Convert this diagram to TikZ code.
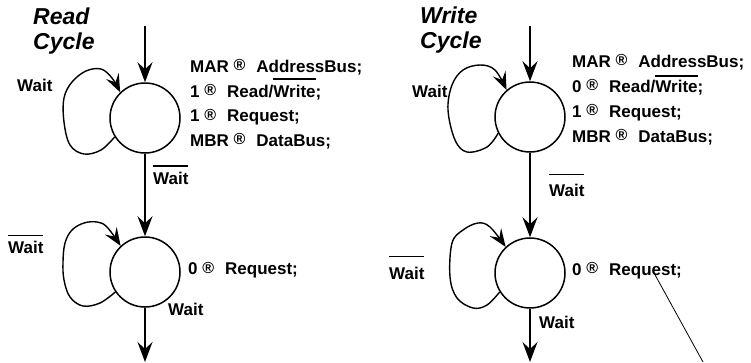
\documentclass[tikz,border=0pt]{standalone}
\usepackage{fontspec}
\setmainfont{Liberation Sans}
\usetikzlibrary{arrows.meta}
% bar over a signal name; optional gap between bar and letters
\newcommand\ovl[2][5pt]{\vbox{\hrule height 1.3pt\kern #1\hbox{#2}}}
% transfer mark between source and destination
\newcommand\toarrow{\ {\fontsize{16}{16}\selectfont\raisebox{1.2pt}{®}}\hspace{11pt}}
\begin{document}
\begin{tikzpicture}[x=1pt,y=-1pt,
  state/.style={circle,draw,line width=1.5pt,minimum size=70pt,inner sep=0pt},
  flow/.style={line width=1.6pt,-{Stealth[length=20pt,width=15pt,inset=7pt]}},
  selfloop/.style={line width=1.4pt,-{Stealth[length=18pt,width=14pt,inset=7pt]}},
  txt/.style={anchor=base west,inner sep=0pt,font=\bfseries\fontsize{17}{20}\selectfont},
  title/.style={anchor=base west,inner sep=0pt,font=\bfseries\itshape\fontsize{23}{28}\selectfont},
  pointer/.style={line width=0.8pt}]
\useasboundingbox (0,0) rectangle (751,362);

% ---------------- read cycle ----------------
\node[state] (L1) at (145,118) {};
\node[state] (L2) at (145,272) {};
\coordinate (Lin) at (145,26);
\coordinate (Lout) at (145,362);
\draw[flow] (Lin) -- (L1.north);
\draw[flow] (L1.south) -- (L2.north);
\draw[flow] (L2.south) -- (Lout);
\draw[selfloop] plot[smooth,tension=0.6] coordinates
  {(L1.212) (101,150) (84,154) (70,145) (64,122) (64,98) (72,82) (86,71) (101,69) (112,78) (L1.134)};
\draw[selfloop] plot[smooth,tension=0.6] coordinates
  {(L2.214) (100,303) (83,306) (70,297) (64,280) (63,262) (65,243) (72,230) (84,223) (97,222) (107,227) (L2.133)};

\node[title] (rt1) at (33,24) {Read};
\node[title] (rt2) at (33,49) {Cycle};
\node[txt] (la1) at (190,72) {MAR\toarrow AddressBus;};
\node[txt] (la2) at (190,97) {1\toarrow Read/\ovl{Write};};
\node[txt] (la3) at (190,121.5) {1\toarrow Request;};
\node[txt] (la4) at (190,146) {MBR\toarrow DataBus;};
\node[txt] (lw1) at (17,91) {Wait};
\node[txt] (lw2) at (153,184) {\ovl{Wait}};
\node[txt] (lw3) at (8,253) {\ovl[4.5pt]{Wait}};
\node[txt] (lb1) at (188,274.5) {0\toarrow Request;};
\node[txt] (lw4) at (168,315) {Wait};

% ---------------- write cycle ----------------
\node[state] (R1) at (530,117) {};
\node[state] (R2) at (530,273) {};
\coordinate (Rin) at (530,26);
\coordinate (Rout) at (530,362);
\draw[flow] (Rin) -- (R1.north);
\draw[flow] (R1.south) -- (R2.north);
\draw[flow] (R2.south) -- (Rout);
\draw[selfloop] plot[smooth,tension=0.6] coordinates
  {(R1.207) (487,147) (467,152) (455,140) (448,110) (452,85) (463,70) (480,65) (495,70) (R1.131)};
\draw[selfloop] plot[smooth,tension=0.6] coordinates
  {(R2.212) (487,305) (473,308) (457,298) (450,277) (452,243) (463,230) (478,223) (490,227) (R2.133)};

\node[title] (wt1) at (420,23.5) {Write};
\node[title] (wt2) at (420,48) {Cycle};
\node[txt] (ra1) at (572,67) {MAR\toarrow AddressBus;};
\node[txt] (ra2) at (572,92) {0\toarrow Read/\ovl[3pt]{Write};};
\node[txt] (ra3) at (572,117) {1\toarrow Request;};
\node[txt] (ra4) at (572,142) {MBR\toarrow DataBus;};
\node[txt] (rw1) at (412,97) {Wait};
\node[txt] (rw2) at (549,196) {\ovl[8.5pt]{Wait}};
\node[txt] (rw3) at (389,279) {\ovl[9.5pt]{Wait}};
\node[txt] (rb1) at (572,275) {0\toarrow Request;};
\node[txt] (rw4) at (539,328) {Wait};

% pointer line leaving the request line
\coordinate (qmark) at (654,273);
\coordinate (qtail) at (703,362);
\draw[pointer] (qmark) -- (qtail);
\end{tikzpicture}
\end{document}
